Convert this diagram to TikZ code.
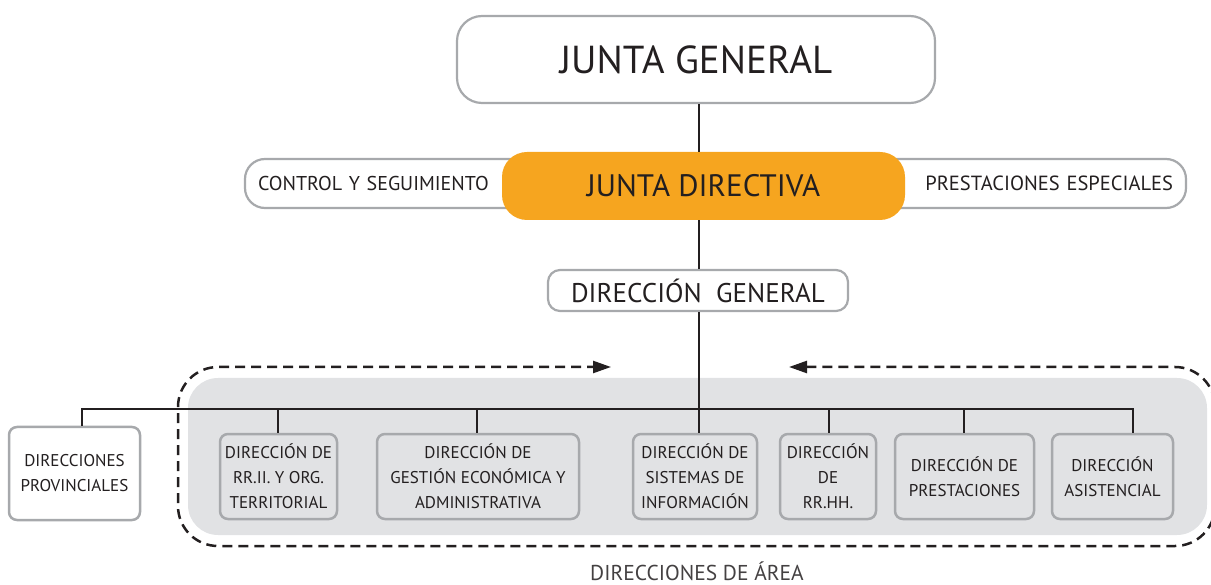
\documentclass[tikz,border=0pt]{standalone}
\usepackage{fontspec}
\setmainfont{PT Sans}
\usetikzlibrary{arrows.meta,calc}
\definecolor{orng}{HTML}{F6A51F}
\definecolor{bord}{HTML}{A7A9AC}
\definecolor{areabg}{HTML}{E1E2E4}
\definecolor{ink}{HTML}{231F20}
\tikzset{
  topbox/.style={draw=bord, line width=2.2pt, fill=white, rounded corners=#1, inner sep=0pt, text=ink},
  areabox/.style={draw=bord, line width=2.5pt, fill=areabg, rounded corners=8pt, inner sep=0pt,
     minimum height=85pt, align=center, font=\fontsize{17}{25}\selectfont, text=ink},
  link/.style={draw=ink, line width=2.4pt},
  frame/.style={draw=ink, line width=2.5pt, dash pattern=on 10pt off 6pt, rounded corners=40pt}
}
\begin{document}
\begin{tikzpicture}[x=1pt,y=-1pt]
\useasboundingbox (0,0) rectangle (1211,585);
% grey area background
\fill[areabg, rounded corners=30pt] (188,378) rectangle (1207,535);
% top nodes
\node[topbox=25pt, minimum width=478pt, minimum height=87pt, font=\fontsize{39}{42}\selectfont] (jg) at (696,59.5) {JUNTA GENERAL};
\node[topbox=20pt, minimum width=315pt, minimum height=49pt, text width=289pt, align=left, font=\fontsize{20}{22}\selectfont] (cs) at (402.5,183.5) {CONTROL Y SEGUIMIENTO};
\node[topbox=20pt, minimum width=336pt, minimum height=49pt, text width=310pt, align=right, font=\fontsize{20.5}{22}\selectfont] (pe) at (1018,183.5) {PRESTACIONES ESPECIALES};
\node[fill=orng, rounded corners=25pt, minimum width=403pt, minimum height=68pt, inner sep=0pt, text=ink, font=\fontsize{31}{34}\selectfont] (jd) at (703.5,186) {JUNTA DIRECTIVA};
\node[topbox=12pt, minimum width=300pt, minimum height=41pt, font=\fontsize{27}{30}\selectfont] (dg) at (698,290.5) {DIRECCIÓN\ \ GENERAL};
% area boxes
\node[draw=bord, line width=2.5pt, fill=white, rounded corners=8pt, minimum width=131pt, minimum height=93pt, inner sep=0pt, align=center, font=\fontsize{17}{25}\selectfont, text=ink] (prov) at (74.5,473.5) {DIRECCIONES\\PROVINCIALES};
\node[areabox, minimum width=117pt] (rrii) at (278.5,476.5) {DIRECCIÓN DE\\RR.II. Y ORG.\\TERRITORIAL};
\node[areabox, minimum width=202pt] (gest) at (478,476.5) {DIRECCIÓN DE\\GESTIÓN ECONÓMICA Y\\ADMINISTRATIVA};
\node[areabox, minimum width=124pt] (sis) at (695,476.5) {DIRECCIÓN DE\\SISTEMAS DE\\INFORMACIÓN};
\node[areabox, minimum width=96pt] (rrhh) at (828,476.5) {DIRECCIÓN\\DE\\RR.HH.};
\node[areabox, minimum width=139pt] (prest) at (964.5,476.5) {DIRECCIÓN DE\\PRESTACIONES};
\node[areabox, minimum width=121pt] (asis) at (1112.5,476.5) {DIRECCIÓN\\ASISTENCIAL};
\node[anchor=base, inner sep=0pt, text depth=0pt, font=\fontsize{21.5}{24}\selectfont, text=ink!85] (lbl) at (697,580) {DIRECCIONES DE ÁREA};
% spine
\coordinate (sp) at (699,0);
\draw[link, line width=2pt] (jg.south -| sp) -- (jd.north -| sp);
\draw[link, line width=2pt] (jd.south -| sp) -- (dg.north -| sp);
\draw[link] (dg.south -| sp) -- (sis.north -| sp);
% bus
\coordinate (b1) at (82,409);
\coordinate (b2) at (278,409);
\coordinate (b3) at (477,409);
\coordinate (b5) at (829,409);
\coordinate (b6) at (964,409);
\coordinate (b7) at (1133,409);
\draw[link] (b1 |- prov.north) -- (b1) -- (b7) -- (b7 |- asis.north);
\draw[link] (b2) -- (b2 |- rrii.north);
\draw[link] (b3) -- (b3 |- gest.north);
\draw[link] (b5) -- (b5 |- rrhh.north);
\draw[link] (b6) -- (b6 |- prest.north);
% dashed frame
\coordinate (fa) at (789,367);
\coordinate (fb) at (611,367);
\draw[frame, {Triangle[length=18pt,width=12pt]}-{Triangle[length=18pt,width=12pt]}] (fa) -- (1215,367) -- (1215,546) -- (178,546) -- (178,367) -- (fb);
\end{tikzpicture}
\end{document}
